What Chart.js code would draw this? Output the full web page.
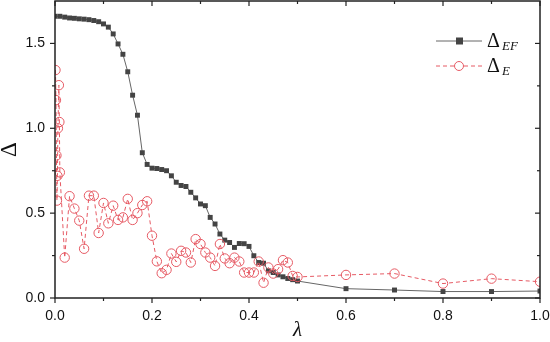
<!DOCTYPE html>
<html>
<head>
<meta charset="utf-8">
<script src="https://cdn.jsdelivr.net/npm/chart.js@4.4.0/dist/chart.umd.min.js"></script>
<style>
  html, body { margin: 0; padding: 0; background: #fff; }
</style>
</head>
<body>
<canvas id="chart" width="550" height="342"></canvas>
<script>
// Delta_EF vs lambda
const lambdaEF = [0, 0.01, 0.02, 0.03, 0.04, 0.05, 0.06, 0.07, 0.08, 0.09,
  0.10, 0.11, 0.12, 0.13, 0.14, 0.15, 0.16, 0.17, 0.18, 0.19,
  0.20, 0.21, 0.22, 0.23, 0.24, 0.25, 0.26, 0.27, 0.28, 0.29,
  0.30, 0.31, 0.32, 0.33, 0.34, 0.35, 0.36, 0.37, 0.38, 0.39,
  0.40, 0.41, 0.42, 0.43, 0.44, 0.45, 0.46, 0.47, 0.48, 0.49,
  0.50, 0.6, 0.7, 0.8, 0.9, 1.0]
const deltaEF = [1.66, 1.66, 1.655, 1.65, 1.648, 1.645, 1.643, 1.64, 1.635, 1.628,
  1.615, 1.596, 1.556, 1.497, 1.436, 1.333, 1.195, 1.077, 0.856, 0.787,
  0.765, 0.763, 0.757, 0.75, 0.72, 0.682, 0.663, 0.657, 0.623, 0.59,
  0.554, 0.544, 0.475, 0.436, 0.377, 0.341, 0.327, 0.298, 0.321, 0.32,
  0.304, 0.249, 0.209, 0.205, 0.16, 0.15, 0.136, 0.125, 0.115, 0.108,
  0.1, 0.055, 0.047, 0.038, 0.038, 0.041]

// Delta_E vs lambda
const lambdaE = [0.001, 0.002, 0.003, 0.004, 0.005, 0.006, 0.008, 0.009, 0.01,
  0.02, 0.03, 0.04, 0.05, 0.06, 0.07, 0.08, 0.09,
  0.10, 0.11, 0.12, 0.13, 0.14, 0.15, 0.16, 0.17, 0.18, 0.19,
  0.20, 0.21, 0.22, 0.23, 0.24, 0.25, 0.26, 0.27, 0.28, 0.29,
  0.30, 0.31, 0.32, 0.33, 0.34, 0.35, 0.36, 0.37, 0.38, 0.39,
  0.40, 0.41, 0.42, 0.43, 0.44, 0.45, 0.46, 0.47, 0.48, 0.49,
  0.50, 0.6, 0.7, 0.8, 0.9, 1.0]
const deltaE = [1.343, 1.166, 0.84, 0.574, 0.72, 1.0, 1.254, 1.037, 0.74,
  0.238, 0.60, 0.527, 0.456, 0.29, 0.603, 0.603, 0.383,
  0.56, 0.44, 0.544, 0.46, 0.475, 0.584, 0.46, 0.50, 0.548, 0.57,
  0.367, 0.216, 0.146, 0.166, 0.262, 0.213, 0.278, 0.268, 0.209, 0.347,
  0.318, 0.268, 0.238, 0.189, 0.318, 0.233, 0.205, 0.238, 0.215, 0.15,
  0.15, 0.15, 0.215, 0.09, 0.18, 0.144, 0.17, 0.223, 0.209, 0.13,
  0.124, 0.136, 0.144, 0.085, 0.114, 0.096]

const xMajor = [0, 0.2, 0.4, 0.6, 0.8, 1.0]
const xMinor = [0.1, 0.3, 0.5, 0.7, 0.9]
const yMajor = [0, 0.5, 1.0, 1.5]
const yMinor = [0.25, 0.75, 1.25]

const axisColor = '#222'
const efColor = '#444'
const eColor = 'rgb(230, 90, 100)'

// frame + ticks like the original plot
const framePlugin = {
    id: 'frame',
    afterDraw(chart) {
        const ctx = chart.ctx
        const a = chart.chartArea
        const xs = chart.scales.x
        const ys = chart.scales.y
        ctx.save()
        ctx.strokeStyle = axisColor
        ctx.lineWidth = 1.5
        ctx.strokeRect(a.left, a.top, a.right - a.left, a.bottom - a.top)
        ctx.lineWidth = 1.2
        const tick = (x1, y1, x2, y2) => {
            ctx.beginPath()
            ctx.moveTo(x1, y1)
            ctx.lineTo(x2, y2)
            ctx.stroke()
        }
        xMajor.forEach(v => {
            const px = xs.getPixelForValue(v)
            tick(px, a.bottom, px, a.bottom + 5)
            tick(px, a.top, px, a.top + 5)
        })
        xMinor.forEach(v => {
            const px = xs.getPixelForValue(v)
            tick(px, a.bottom, px, a.bottom + 3)
            tick(px, a.top, px, a.top + 3)
        })
        yMajor.forEach(v => {
            const py = ys.getPixelForValue(v)
            tick(a.left, py, a.left - 5, py)
            tick(a.right, py, a.right - 5, py)
        })
        yMinor.forEach(v => {
            const py = ys.getPixelForValue(v)
            tick(a.left, py, a.left - 3, py)
            tick(a.right, py, a.right - 3, py)
        })
        ctx.restore()
    }
}

// legend with subscripts
const legendPlugin = {
    id: 'subLegend',
    afterDraw(chart) {
        const ctx = chart.ctx
        ctx.save()
        const rows = [
            { y: 41, sub: 'EF', color: efColor, dash: [], square: true },
            { y: 66, sub: 'E', color: eColor, dash: [4, 3], square: false }
        ]
        rows.forEach(r => {
            ctx.strokeStyle = r.square ? '#666' : r.color
            ctx.lineWidth = 1
            ctx.setLineDash(r.dash)
            ctx.beginPath()
            ctx.moveTo(436, r.y)
            ctx.lineTo(482, r.y)
            ctx.stroke()
            ctx.setLineDash([])
            if (r.square) {
                ctx.fillStyle = r.color
                ctx.fillRect(456, r.y - 3.5, 7, 7)
            } else {
                ctx.fillStyle = '#fff'
                ctx.beginPath()
                ctx.arc(459, r.y, 4.5, 0, Math.PI * 2)
                ctx.fill()
                ctx.strokeStyle = r.color
                ctx.stroke()
            }
            ctx.fillStyle = '#111'
            ctx.textBaseline = 'alphabetic'
            ctx.font = '20px "Liberation Serif"'
            ctx.fillText('Δ', 487, r.y + 6)
            ctx.font = 'italic 13px "Liberation Serif"'
            ctx.fillText(r.sub, 502, r.y + 9)
        })
        ctx.restore()
    }
}

const noPad = s => {
    s.paddingLeft = 0
    s.paddingRight = 0
    s.paddingTop = 0
    s.paddingBottom = 0
}

const ctx = document.getElementById('chart').getContext('2d')

new Chart(ctx, {
    type: 'line',
    data: {
        datasets: [{
            label: 'ΔEF',
            data: lambdaEF.map((l, i) => ({ x: l, y: deltaEF[i] })),
            borderColor: '#666',
            borderWidth: 1,
            pointStyle: 'rect',
            pointRadius: 3.5,
            pointBackgroundColor: efColor,
            pointBorderColor: efColor,
            pointBorderWidth: 0,
            tension: 0,
            order: 2
        }, {
            label: 'ΔE',
            data: lambdaE.map((l, i) => ({ x: l, y: deltaE[i] })),
            borderColor: eColor,
            borderWidth: 1,
            borderDash: [4, 3],
            pointStyle: 'circle',
            pointRadius: 4.7,
            pointBackgroundColor: 'rgba(255,255,255,0)',
            pointBorderColor: eColor,
            pointBorderWidth: 1,
            tension: 0,
            order: 1
        }]
    },
    options: {
        responsive: false,
        animation: false,
        layout: { autoPadding: false, padding: { top: 1, right: 10, left: 0, bottom: 0 } },
        plugins: {
            legend: { display: false },
            tooltip: { enabled: false }
        },
        scales: {
            x: {
                type: 'linear',
                min: 0,
                max: 1.0,
                afterFit: s => { s.height = 44; noPad(s) },
                afterBuildTicks: s => { s.ticks = xMajor.map(v => ({ value: v })) },
                grid: { display: false, drawTicks: false },
                border: { display: false },
                ticks: {
                    padding: 10,
                    color: '#111',
                    font: { family: 'Liberation Sans', size: 14 },
                    callback: v => v.toFixed(1)
                },
                title: {
                    display: true,
                    text: 'λ',
                    color: '#111',
                    font: { family: 'Liberation Serif', style: 'italic', size: 21, lineHeight: 1 },
                    padding: { top: 0, bottom: 1 }
                }
            },
            y: {
                type: 'linear',
                min: 0,
                max: 1.75,
                afterFit: s => { s.width = 55; noPad(s) },
                afterBuildTicks: s => { s.ticks = yMajor.map(v => ({ value: v })) },
                grid: { display: false, drawTicks: false },
                border: { display: false },
                ticks: {
                    padding: 10,
                    color: '#111',
                    font: { family: 'Liberation Sans', size: 14 },
                    callback: v => v.toFixed(1)
                },
                title: {
                    display: true,
                    text: 'Δ',
                    color: '#111',
                    font: { family: 'Liberation Serif', size: 23, lineHeight: 1 },
                    padding: { top: -2, bottom: 0 }
                }
            }
        }
    },
    plugins: [framePlugin, legendPlugin]
})
</script>
</body>
</html>
